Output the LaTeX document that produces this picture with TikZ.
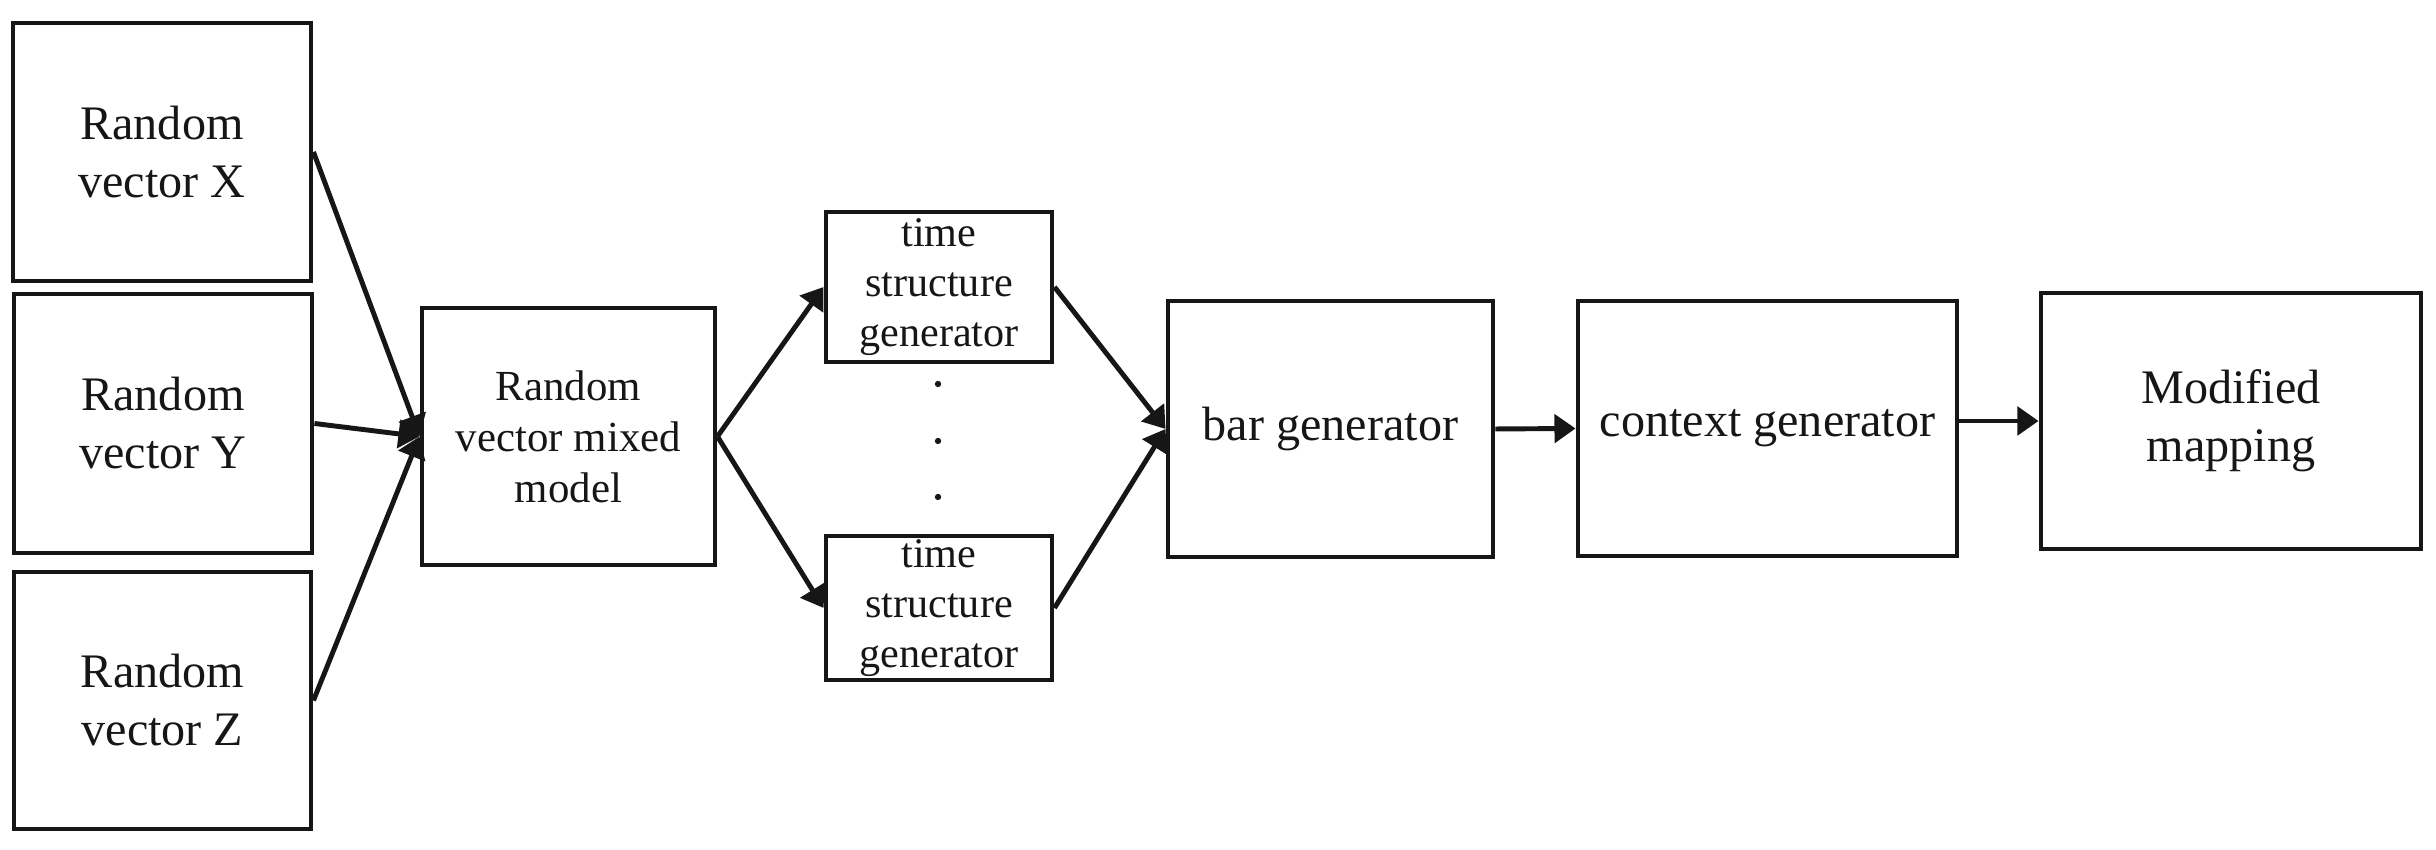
\documentclass[tikz,border=0pt]{standalone}
\usepackage{fontspec}
\setmainfont{Liberation Serif}
\usepackage{xcolor}
\usepackage{tikz}
\usetikzlibrary{arrows.meta}
\definecolor{ink}{HTML}{161616}
\tikzset{
  box/.style={draw=ink, line width=1.4pt, inner sep=0pt, align=center, text=ink, font=\fontsize{13.7}{16.5}\selectfont},
  boxm/.style={box, font=\fontsize{12.2}{14.5}\selectfont},
  boxt/.style={box, font=\fontsize{12}{14.2}\selectfont},
  arr/.style={draw=ink, line width=1.4pt, -{Triangle[length=6pt,width=8pt]}},
  dotm/.style={circle, fill=ink, inner sep=0pt, minimum size=1.8pt},
}
\begin{document}
\begin{tikzpicture}
  \useasboundingbox (0,0) rectangle (24.36,8.5);
  % inputs
  \node[box, minimum width=2.98cm, minimum height=2.58cm] (vecX) at (1.62,6.98) {Random\\vector X};
  \node[box, minimum width=2.98cm, minimum height=2.59cm] (vecY) at (1.63,4.265) {Random\\vector Y};
  \node[box, minimum width=2.97cm, minimum height=2.57cm] (vecZ) at (1.625,1.495) {Random\\vector Z};
  \node[boxm, minimum width=2.93cm, minimum height=2.57cm] (mixed) at (5.685,4.135) {Random\\vector mixed\\model};
  % time structure generators
  \node[boxt, minimum width=2.26cm, minimum height=1.50cm] (tsA) at (9.39,5.63) {time\\structure\\generator};
  \node[boxt, minimum width=2.26cm, minimum height=1.44cm] (tsB) at (9.39,2.42) {time\\structure\\generator};
  \foreach \k/\y in {1/4.66,2/4.09,3/3.53}
    \node[dotm] (dot\k) at (9.38,\y) {};
  % outputs
  \node[box, minimum width=3.25cm, minimum height=2.56cm] (bar) at (13.305,4.21) {bar generator};
  \node[box, minimum width=3.79cm, minimum height=2.55cm] (ctx) at (17.675,4.215) {context generator};
  \node[box, minimum width=3.80cm, minimum height=2.56cm] (mod) at (22.31,4.29) {Modified\\mapping};
  \draw[arr] (vecX.east) -- (mixed.west);
  \draw[arr] (vecY.east) -- (mixed.west);
  \draw[arr] (vecZ.east) -- (mixed.west);
  \draw[arr] (mixed.east) -- (tsA.west);
  \draw[arr] (mixed.east) -- (tsB.west);
  \draw[arr] (tsA.east) -- (bar.west);
  \draw[arr] (tsB.east) -- (bar.west);
  \draw[arr] (bar.east) -- (ctx.west);
  \draw[arr] (ctx.east |- mod.west) -- (mod.west);
\end{tikzpicture}
\end{document}
